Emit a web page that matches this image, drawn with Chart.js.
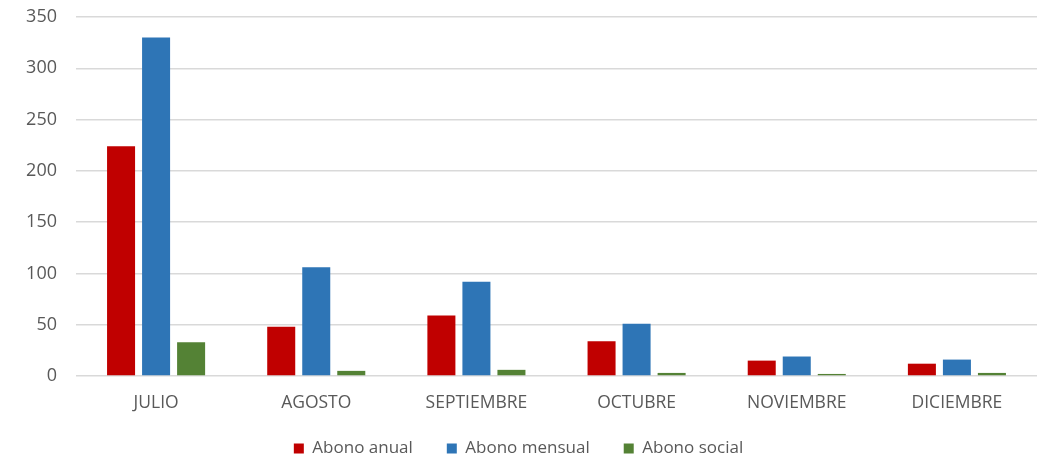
<!DOCTYPE html>
<html lang="es">
  <head>
    <meta charset="UTF-8" />
    <title>Abonos por mes</title>
    <style>
      * { margin: 0; padding: 0; box-sizing: border-box; }
      body { background: #fff; }
      .chartBox { width: 1051px; height: 457px; }
    </style>
  </head>
  <body>
    <div class="chartBox">
      <canvas id="myChart"></canvas>
    </div>

    <script src="https://cdn.jsdelivr.net/npm/chart.js"></script>

    <script>
      const months = ["JULIO", "AGOSTO", "SEPTIEMBRE", "OCTUBRE", "NOVIEMBRE", "DICIEMBRE"];
      const abonoAnual = [224, 48, 59, 34, 15, 12];
      const abonoMensual = [330, 106, 92, 51, 19, 16];
      const abonoSocial = [33, 5, 6, 3, 2, 3];
      const yTicks = [0, 50, 100, 150, 200, 250, 300, 350];

      const textColor = "#595959";
      const fontFamily = "'Open Sans', sans-serif";

      // squeeze the legend box so it sits close under the x labels
      const legendHeight = {
        id: "legendHeight",
        beforeInit(chart) {
          const fit = chart.legend.fit;
          chart.legend.fit = function () {
            fit.bind(chart.legend)();
            this.height = 51;
          };
        },
      };

      const data = {
        labels: months,
        datasets: [
          { label: "Abono anual", data: abonoAnual, backgroundColor: "#c00000" },
          { label: "Abono mensual", data: abonoMensual, backgroundColor: "#2e75b6" },
          { label: "Abono social", data: abonoSocial, backgroundColor: "#548235" },
        ],
      };

      const config = {
        type: "bar",
        data: data,
        options: {
          responsive: true,
          maintainAspectRatio: false,
          animation: false,
          datasets: {
            bar: { categoryPercentage: 0.656, barPercentage: 0.8 },
          },
          layout: { padding: { top: 17, right: 14, left: 0, bottom: 0 } },
          plugins: {
            tooltip: { enabled: false },
            legend: {
              position: "bottom",
              labels: {
                boxWidth: 10,
                boxHeight: 10,
                padding: 34,
                color: textColor,
                font: { family: fontFamily, size: 17 },
              },
            },
          },
          scales: {
            x: {
              grid: { display: false, drawTicks: false },
              border: { display: false },
              ticks: {
                padding: 17,
                color: textColor,
                font: { family: fontFamily, size: 17.5 },
              },
              afterFit(scale) {
                scale.height = 30;
                // let the labels run past the short axis box
                scale._computeLabelArea = () => null;
              },
            },
            y: {
              min: 0,
              max: 350,
              afterBuildTicks(scale) {
                scale.ticks = yTicks.map((v) => ({ value: v }));
              },
              grid: { color: "#d9d9d9", lineWidth: 1.5, drawTicks: false },
              border: { display: false },
              ticks: {
                padding: 19,
                color: textColor,
                font: { family: fontFamily, size: 18 },
              },
              afterFit(scale) {
                scale.width = 76;
                scale.paddingTop = 0;
                scale.paddingBottom = 0;
              },
            },
          },
        },
        plugins: [legendHeight],
      };

      const myChart = new Chart(document.getElementById("myChart"), config);
    </script>
  </body>
</html>
